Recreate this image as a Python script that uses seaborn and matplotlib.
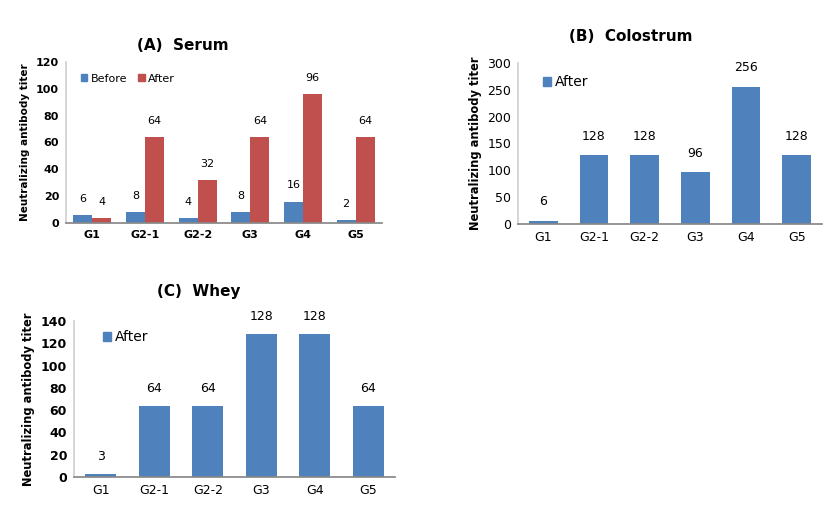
import matplotlib
matplotlib.use("Agg")
import matplotlib.pyplot as plt
import seaborn as sns
import pandas as pd
from matplotlib.patches import Patch

sns.set_theme(style="white")
plt.rcParams['font.family'] = ['DejaVu Sans']
plt.rcParams['text.color'] = 'black'
plt.rcParams['xtick.color'] = 'black'
plt.rcParams['ytick.color'] = 'black'
plt.rcParams['axes.labelcolor'] = 'black'

groups = ["G1", "G2-1", "G2-2", "G3", "G4", "G5"]
serum_before = [6, 8, 4, 8, 16, 2]
serum_after = [4, 64, 32, 64, 96, 64]
colostrum_after = [6, 128, 128, 96, 256, 128]
whey_after = [3, 64, 64, 128, 128, 64]

BLUE = "#4F81BD"
RED = "#C0504D"

W, H = 832, 522
fig = plt.figure(figsize=(W / 100, H / 100), dpi=100)


def add_ax(l, r, t, b):
    return fig.add_axes([l / W, (H - b) / H, (r - l) / W, (b - t) / H])


def style(ax, ymax, step, fs_tick, xbold, ybold, fs_ylab):
    ax.set_ylim(0, ymax)
    ax.set_yticks(range(0, ymax + 1, step))
    for s in ["top", "right"]:
        ax.spines[s].set_visible(False)
    ax.spines["left"].set_color("#D0D0D0")
    ax.spines["bottom"].set_color("#888888")
    ax.tick_params(length=0, labelsize=fs_tick, pad=5)
    for lab in ax.get_xticklabels():
        lab.set_fontweight("bold" if xbold else "normal")
    for lab in ax.get_yticklabels():
        lab.set_fontweight("bold" if ybold else "normal")
    ax.set_xlabel("")
    ax.set_ylabel("Neutralizing antibody titer", fontsize=fs_ylab, fontweight="bold")
    ax.set_xlim(-0.5, 5.5)


# Panel A
axA = add_ax(66, 382, 62, 223)
dfA = pd.DataFrame({
    "Group": groups * 2,
    "Titer": serum_before + serum_after,
    "Series": ["Before"] * 6 + ["After"] * 6,
})
sns.barplot(data=dfA, x="Group", y="Titer", hue="Series", order=groups,
            hue_order=["Before", "After"], palette=[BLUE, RED], width=0.72,
            saturation=1, ax=axA, legend=False, linewidth=0)
for c in axA.containers:
    axA.bar_label(c, fontsize=8, padding=8)
style(axA, 120, 20, 8, True, True, 7.5)
axA.set_title("(A)  Serum", fontsize=11, fontweight="bold", pad=9, x=0.37)
axA.legend(handles=[Patch(color=BLUE, label="Before"), Patch(color=RED, label="After")],
           loc="upper left", bbox_to_anchor=(0.015, 0.99), ncol=2, frameon=False,
           fontsize=8, handlelength=0.6, handleheight=0.6, handletextpad=0.3,
           columnspacing=1.0)

# Panel B
axB = add_ax(518, 822, 63, 224)
dfB = pd.DataFrame({"Group": groups, "Titer": colostrum_after})
sns.barplot(data=dfB, x="Group", y="Titer", order=groups, color=BLUE,
            width=0.57, saturation=1, ax=axB, linewidth=0)
for c in axB.containers:
    axB.bar_label(c, fontsize=9, padding=9)
style(axB, 300, 50, 9, False, False, 8.3)
axB.set_title("(B)  Colostrum", fontsize=11, fontweight="bold", pad=16, x=0.372)
axB.legend(handles=[Patch(color=BLUE, label="After")], loc="upper left",
           bbox_to_anchor=(0.04, 1.0), frameon=False, fontsize=10,
           handlelength=0.6, handleheight=0.6, handletextpad=0.3)

# Panel C
axC = add_ax(74, 395, 321, 477)
dfC = pd.DataFrame({"Group": groups, "Titer": whey_after})
sns.barplot(data=dfC, x="Group", y="Titer", order=groups, color=BLUE,
            width=0.58, saturation=1, ax=axC, linewidth=0)
for c in axC.containers:
    axC.bar_label(c, fontsize=9, padding=8)
style(axC, 140, 20, 9, False, True, 8.3)
axC.set_title("(C)  Whey", fontsize=11, fontweight="bold", pad=18, x=0.39)
axC.legend(handles=[Patch(color=BLUE, label="After")], loc="upper left",
           bbox_to_anchor=(0.05, 1.02), frameon=False, fontsize=10,
           handlelength=0.6, handleheight=0.6, handletextpad=0.3)

fig.savefig("out.png", dpi=100, facecolor="white")
